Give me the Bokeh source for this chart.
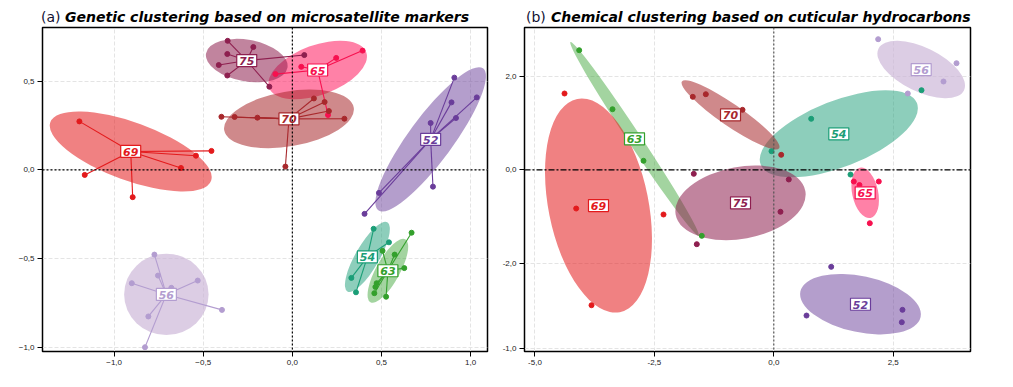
import numpy as np
from bokeh.plotting import figure
from bokeh.models import ColumnDataSource, Span, FixedTicker, Range1d, Div
from bokeh.layouts import row, column
from bokeh.core.properties import value
from bokeh.embed import file_html
from bokeh.resources import INLINE

CLUSTERS = ["52", "54", "56", "63", "65", "69", "70", "75"]

# ---- (a) genetic clustering: individuals per cluster ----
GEN_X = {
    "52": [0.909, 0.893, 1.035, 0.918, 0.776, 0.789, 0.486, 0.405],
    "54": [0.456, 0.542, 0.331, 0.357],
    "56": [-0.774, -0.754, -0.679, -0.531, -0.901, -0.395, -0.808, -0.827],
    "63": [0.669, 0.506, 0.574, 0.628, 0.473, 0.466, 0.460, 0.526],
    "65": [-0.095, 0.050, 0.246, 0.394, 0.200],
    "69": [-1.195, -1.165, -0.896, -0.625, -0.541, -0.454],
    "70": [-0.398, -0.324, -0.196, 0.121, 0.181, 0.205, 0.292, -0.039],
    "75": [-0.363, -0.219, -0.365, -0.413, -0.365, 0.067, -0.129],
}
GEN_Y = {
    "52": [0.519, 0.380, 0.408, 0.292, 0.264, -0.094, -0.129, -0.247],
    "54": [-0.331, -0.407, -0.607, -0.688],
    "56": [-0.476, -0.594, -0.663, -0.622, -0.637, -0.787, -0.824, -0.997],
    "63": [-0.353, -0.455, -0.476, -0.552, -0.637, -0.658, -0.693, -0.713],
    "65": [0.539, 0.580, 0.630, 0.671, 0.309],
    "69": [0.273, -0.028, -0.153, 0.011, 0.080, 0.107],
    "70": [0.299, 0.298, 0.294, 0.402, 0.382, 0.331, 0.288, 0.019],
    "75": [0.726, 0.691, 0.652, 0.590, 0.531, 0.646, 0.468],
}
GEN_CX = [0.776, 0.421, -0.707, 0.536, 0.142, -0.907, -0.019, -0.256]
GEN_CY = [0.172, -0.489, -0.700, -0.567, 0.562, 0.104, 0.287, 0.615]
GEN_ELL_A = [0.495, 0.224, 0.237, 0.202, 0.290, 0.480, 0.369, 0.232]
GEN_ELL_B = [0.124, 0.067, 0.229, 0.067, 0.140, 0.163, 0.154, 0.117]
GEN_ELL_ANGLE = [53.6, 60.0, 0.0, 61.0, 20.0, -20.0, 10.0, -10.0]

# ---- (b) chemical clustering ----
CHEM_X = {
    "52": [1.202, 0.685, 2.694, 2.680],
    "54": [-0.048, 0.783, 1.606, 3.092],
    "56": [2.185, 3.825, 3.553, 2.805],
    "63": [-4.074, -3.377, -2.728, -1.507],
    "65": [1.675, 1.794, 2.198, 2.010],
    "69": [-4.381, -4.137, -3.816, -2.309],
    "70": [-1.696, -1.423, -0.655, 0.155],
    "75": [-1.675, 0.314, 0.140, -1.612],
}
CHEM_Y = {
    "52": [-2.075, -3.117, -2.995, -3.260],
    "54": [0.398, 1.091, -0.101, 1.703],
    "56": [2.794, 2.280, 1.889, 1.632],
    "63": [2.558, 1.296, 0.193, -1.412],
    "65": [-0.250, -0.325, -0.250, -1.142],
    "69": [1.632, -0.828, -2.896, -0.956],
    "70": [1.561, 1.617, 1.283, 0.321],
    "75": [-0.086, -0.207, -0.898, -1.591],
}
CHEM_CX = [1.815, 1.361, 3.086, -2.916, 1.913, -3.670, -0.906, -0.697]
CHEM_CY = [-2.875, 0.770, 2.145, 0.663, -0.492, -0.764, 1.176, -0.706]
CHEM_ELL_A = [1.287, 1.758, 0.996, 2.430, 0.538, 2.276, 1.235, 1.380]
CHEM_ELL_B = [0.599, 0.706, 0.470, 0.139, 0.278, 1.070, 0.235, 0.770]
CHEM_ELL_ANGLE = [-12.0, 21.5, -26.0, -56.5, -78.0, -78.7, -34.5, 10.4]

# axis ticks
A_XTICKS = [-1.0, -0.5, 0.0, 0.5, 1.0]
A_XLABELS = ["\u22121,0", "\u22120,5", "0,0", "0,5", "1,0"]
A_YTICKS = [-1.0, -0.5, 0.0, 0.5]
A_YLABELS = ["\u22121,0", "\u22120,5", "0,0", "0,5"]
B_XTICKS = [-5.0, -2.5, 0.0, 2.5]
B_XLABELS = ["-5,0", "-2,5", "0,0", "2,5"]
B_YTICKS = [-3.83, -2.0, 0.0, 2.0]
B_YLABELS = ["-1,0", "-2,0", "0,0", "2,0"]

TITLE_A = ("(a)", "Genetic clustering based on microsatellite markers")
TITLE_B = ("(b)", "Chemical clustering based on cuticular hydrocarbons")

# ---- styles ----
COLORS = {"52": "#6a3d9a", "54": "#1b9e77", "56": "#b39dd0", "63": "#33a02c",
          "65": "#f7104f", "69": "#e31a1c", "70": "#a8282c", "75": "#8e1f4f"}
FILLS = {"52": "#6a3d9a", "54": "#1b9e77", "56": "#cab2d6", "63": "#33a02c",
         "65": "#ff1a5e", "69": "#e31a1c", "70": "#a8282c", "75": "#8e1f4f"}
ALPHAS = {"52": 0.5, "54": 0.5, "56": 0.65, "63": 0.45,
          "65": 0.55, "69": 0.55, "70": 0.55, "75": 0.55}

FONT = "DejaVu Sans"
TICK_FONT = "Liberation Sans"
TOP_H = 24


def make_panel(xs, ys, cx, cy, ea, eb, eang, xr, yr, xt, xl, yt, yl,
               width, bl, br, star, hdash, vdash, vcolor):
    p = figure(width=width, height=387 - TOP_H - 4, x_range=Range1d(*xr), y_range=Range1d(*yr),
               output_backend="svg", toolbar_location=None,
               min_border_left=bl, min_border_right=br, min_border_top=3, min_border_bottom=32)
    p.outline_line_color = "black"
    p.outline_line_width = 1.5
    for ax, ticks, labels in ((p.xaxis[0], xt, xl), (p.yaxis[0], yt, yl)):
        ax.ticker = FixedTicker(ticks=ticks)
        ax.major_label_overrides = {t: l for t, l in zip(ticks, labels)}
        ax.minor_tick_line_color = None
        ax.major_tick_out = 5
        ax.major_tick_in = 0
        ax.major_label_standoff = 3
        ax.axis_line_color = "black"
        ax.major_label_text_font = TICK_FONT
        ax.major_label_text_font_size = "8px"
        ax.major_label_text_color = "#222222"
    for g in (p.xgrid[0], p.ygrid[0]):
        g.grid_line_color = "#e4e4e4"
        g.grid_line_dash = "4 2"
        g.grid_line_width = 1

    es = ColumnDataSource(dict(
        x=cx, y=cy, w=[2 * a for a in ea], h=[2 * b for b in eb],
        ang=list(np.deg2rad(eang)),
        fill=[FILLS[c] for c in CLUSTERS], alpha=[ALPHAS[c] for c in CLUSTERS]))
    p.ellipse(x="x", y="y", width="w", height="h", angle="ang", source=es,
              fill_color="fill", fill_alpha="alpha", line_color=None)

    p.add_layout(Span(location=0, dimension="width", line_color="black",
                      line_dash=hdash, line_width=1.2))
    p.add_layout(Span(location=0, dimension="height", line_color=vcolor,
                      line_dash=vdash, line_width=1.2))

    px, py, pc, x0, y0 = [], [], [], [], []
    for i, c in enumerate(CLUSTERS):
        for a, b in zip(xs[c], ys[c]):
            px.append(a); py.append(b); pc.append(COLORS[c])
            x0.append(cx[i]); y0.append(cy[i])
    if star:
        p.segment(x0=x0, y0=y0, x1=px, y1=py, line_color=pc, line_width=1.1)
    p.scatter(px, py, size=5, fill_color=pc, line_color=pc)

    ls = ColumnDataSource(dict(x=cx, y=cy, t=CLUSTERS, col=[COLORS[c] for c in CLUSTERS]))
    p.rect(x="x", y="y", width=20, height=12, width_units="screen", height_units="screen",
           source=ls, fill_color="white", line_color="col", line_width=1.2)
    p.text(x="x", y="y", text="t", source=ls, text_color="col", y_offset=0.5,
           text_font=value(FONT), text_font_style="bold italic", text_font_size="11px",
           text_align="center", text_baseline="middle")
    return p


def make_title(parts, width, tag_left, text_left):
    html = (
        '<div style="position:relative;width:%dpx;height:%dpx;font-family:\'DejaVu Sans\';'
        'font-size:14px;line-height:16px;white-space:nowrap;color:#000;">'
        '<span style="position:absolute;left:%spx;top:9px;color:#111133;">%s</span>'
        '<span style="position:absolute;left:%spx;top:9px;font-weight:bold;font-style:italic;">%s</span>'
        '</div>' % (width, TOP_H, tag_left, parts[0], text_left, parts[1]))
    return Div(text=html, width=width, height=TOP_H, margin=0)


pa = make_panel(GEN_X, GEN_Y, GEN_CX, GEN_CY, GEN_ELL_A, GEN_ELL_B, GEN_ELL_ANGLE,
                (-1.402, 1.095), (-1.021, 0.801), A_XTICKS, A_XLABELS, A_YTICKS, A_YLABELS,
                497, 42, 10, True, "2 2", "2 2", "black")
pb = make_panel(CHEM_X, CHEM_Y, CHEM_CX, CHEM_CY, CHEM_ELL_A, CHEM_ELL_B, CHEM_ELL_ANGLE,
                (-5.219, 4.118), (-3.886, 3.044), B_XTICKS, B_XLABELS, B_YTICKS, B_YLABELS,
                503, 27, 30, False, "6 2 2 2", "2 2", "#555555")

ta = make_title(TITLE_A, 497, 41, 65)
tb = make_title(TITLE_B, 503, 29, 54)

layout = column(row(ta, tb, spacing=0), row(pa, pb, spacing=0), spacing=0)
open("out.html", "w").write(file_html(layout, INLINE))
